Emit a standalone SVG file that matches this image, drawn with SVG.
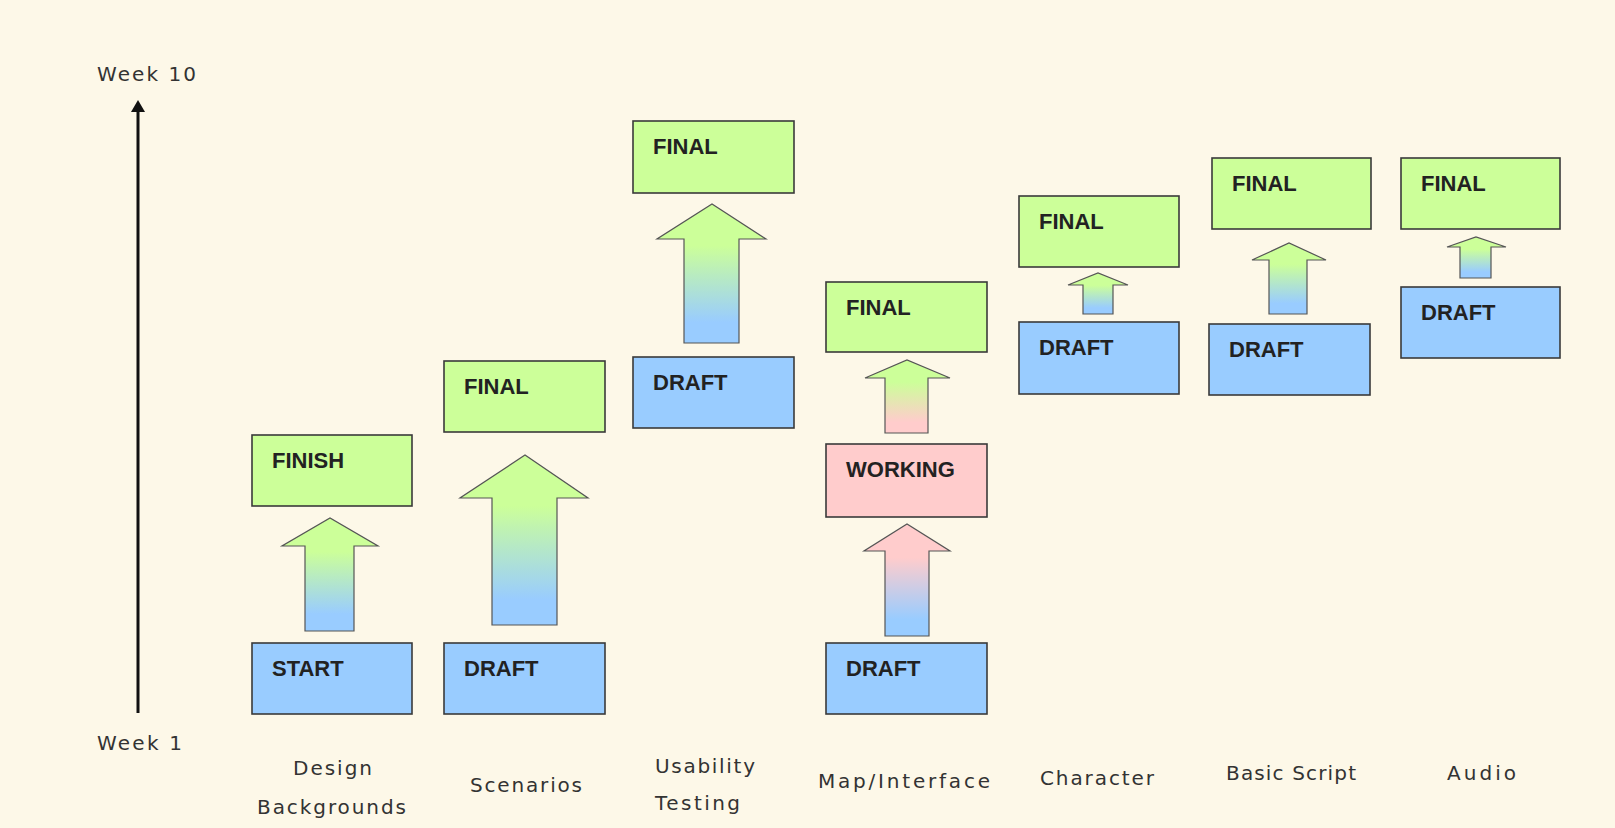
<svg xmlns="http://www.w3.org/2000/svg" width="1615" height="828" viewBox="0 0 1615 828">
<style>
.bg{fill:#FDF8E8}
.box{stroke:#3a3a3a;stroke-width:1.6}
.g{fill:#CCFF99}
.b{fill:#99CCFF}
.p{fill:#FFCCCC}
.arr{stroke:#555;stroke-width:1.2;stroke-linejoin:miter}
.bt{font-family:"Liberation Sans",Arial,sans-serif;font-weight:bold;font-size:22px;fill:#222}
.lb{font-family:"DejaVu Sans","Liberation Sans",sans-serif;font-size:20px;fill:#333}
</style>
<defs>
<linearGradient id="gb" x1="0" y1="0" x2="0" y2="1">
<stop offset="0.3" stop-color="#CCFF99"/>
<stop offset="0.85" stop-color="#99CCFF"/>
</linearGradient>
<linearGradient id="pb" x1="0" y1="0" x2="0" y2="1">
<stop offset="0.3" stop-color="#FFCCCC"/>
<stop offset="0.85" stop-color="#99CCFF"/>
</linearGradient>
<linearGradient id="gp" x1="0" y1="0" x2="0" y2="1">
<stop offset="0.3" stop-color="#CCFF99"/>
<stop offset="0.85" stop-color="#FFCCCC"/>
</linearGradient>
</defs>
<rect class="bg" x="0" y="0" width="1615" height="828"/>

<g id="axis">
<line x1="138" y1="713" x2="138" y2="110" stroke="#111" stroke-width="3"/>
<path d="M131,112 L138,100 L145,112 Z" fill="#111"/>
<text class="lb" x="97" y="81" textLength="99" lengthAdjust="spacing">Week 10</text>
<text class="lb" x="97" y="750" textLength="85" lengthAdjust="spacing">Week 1</text>
</g>

<g id="connectors">
<path class="arr" fill="url(#gb)" d="M305,631 L305,546 L282,546 L330,518 L378,546 L354,546 L354,631 Z"/>
<path class="arr" fill="url(#gb)" d="M492,625 L492,498 L460,498 L525,455 L588,498 L557,498 L557,625 Z"/>
<path class="arr" fill="url(#gb)" d="M684,343 L684,239 L657,239 L712,204 L766,239 L739,239 L739,343 Z"/>
<path class="arr" fill="url(#pb)" d="M885,636 L885,551 L864,551 L907,524 L950,551 L929,551 L929,636 Z"/>
<path class="arr" fill="url(#gp)" d="M885,433 L885,378 L865,378 L907,360 L950,378 L928,378 L928,433 Z"/>
<path class="arr" fill="url(#gb)" d="M1083,314 L1083,285 L1068,285 L1098,273 L1128,285 L1113,285 L1113,314 Z"/>
<path class="arr" fill="url(#gb)" d="M1269,314 L1269,260 L1252,260 L1289,243 L1326,260 L1307,260 L1307,314 Z"/>
<path class="arr" fill="url(#gb)" d="M1460,278 L1460,247 L1447,247 L1476,237 L1506,247 L1491,247 L1491,278 Z"/>
</g>

<g id="design">
<rect class="box g" x="252" y="435" width="160" height="71"/>
<text class="bt" x="272" y="468">FINISH</text>
<rect class="box b" x="252" y="643" width="160" height="71"/>
<text class="bt" x="272" y="676">START</text>
<text class="lb" x="293" y="775" textLength="79" lengthAdjust="spacing">Design</text>
<text class="lb" x="257" y="814" textLength="149" lengthAdjust="spacing">Backgrounds</text>
</g>

<g id="scenarios">
<rect class="box g" x="444" y="361" width="161" height="71"/>
<text class="bt" x="464" y="394">FINAL</text>
<rect class="box b" x="444" y="643" width="161" height="71"/>
<text class="bt" x="464" y="676">DRAFT</text>
<text class="lb" x="470" y="792" textLength="112" lengthAdjust="spacing">Scenarios</text>
</g>

<g id="usability">
<rect class="box g" x="633" y="121" width="161" height="72"/>
<text class="bt" x="653" y="154">FINAL</text>
<rect class="box b" x="633" y="357" width="161" height="71"/>
<text class="bt" x="653" y="390">DRAFT</text>
<text class="lb" x="655" y="773" textLength="100" lengthAdjust="spacing">Usability</text>
<text class="lb" x="655" y="810" textLength="85" lengthAdjust="spacing">Testing</text>
</g>

<g id="map">
<rect class="box g" x="826" y="282" width="161" height="70"/>
<text class="bt" x="846" y="315">FINAL</text>
<rect class="box p" x="826" y="444" width="161" height="73"/>
<text class="bt" x="846" y="477">WORKING</text>
<rect class="box b" x="826" y="643" width="161" height="71"/>
<text class="bt" x="846" y="676">DRAFT</text>
<text class="lb" x="818" y="788" textLength="172" lengthAdjust="spacing">Map/Interface</text>
</g>

<g id="character">
<rect class="box g" x="1019" y="196" width="160" height="71"/>
<text class="bt" x="1039" y="229">FINAL</text>
<rect class="box b" x="1019" y="322" width="160" height="72"/>
<text class="bt" x="1039" y="355">DRAFT</text>
<text class="lb" x="1040" y="785" textLength="114" lengthAdjust="spacing">Character</text>
</g>

<g id="basic-script">
<rect class="box g" x="1212" y="158" width="159" height="71"/>
<text class="bt" x="1232" y="191">FINAL</text>
<rect class="box b" x="1209" y="324" width="161" height="71"/>
<text class="bt" x="1229" y="357">DRAFT</text>
<text class="lb" x="1226" y="780" textLength="130" lengthAdjust="spacing">Basic Script</text>
</g>

<g id="audio">
<rect class="box g" x="1401" y="158" width="159" height="71"/>
<text class="bt" x="1421" y="191">FINAL</text>
<rect class="box b" x="1401" y="287" width="159" height="71"/>
<text class="bt" x="1421" y="320">DRAFT</text>
<text class="lb" x="1447" y="780" textLength="69" lengthAdjust="spacing">Audio</text>
</g>
</svg>
